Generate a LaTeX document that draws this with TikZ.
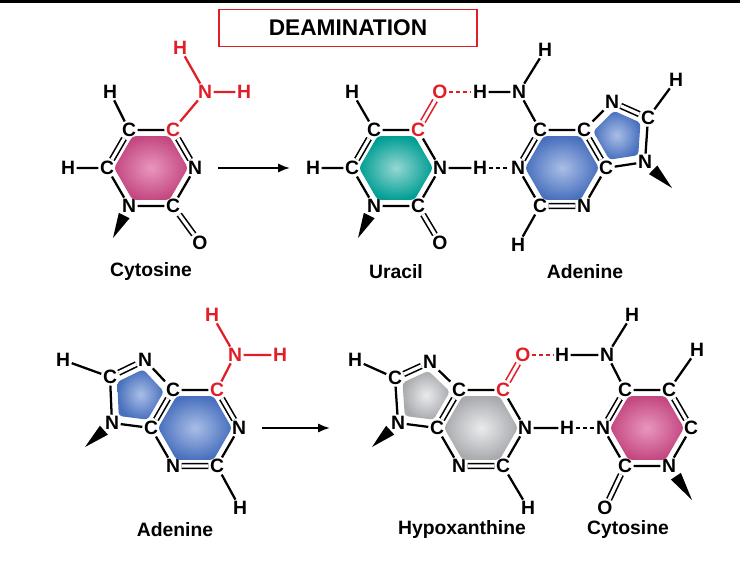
\documentclass[tikz,border=0pt]{standalone}
\usepackage{fontspec}
\setmainfont{Liberation Sans}
\usetikzlibrary{calc,arrows.meta}
\definecolor{rd}{RGB}{225,30,40}
\definecolor{pinkO}{RGB}{196,72,128}\definecolor{pinkI}{RGB}{232,150,190}
\definecolor{tealO}{RGB}{0,158,148}\definecolor{tealI}{RGB}{150,215,210}
\definecolor{blueO}{RGB}{72,112,190}\definecolor{blueI}{RGB}{170,190,230}
\definecolor{grayO}{RGB}{168,170,174}\definecolor{grayI}{RGB}{235,235,237}
\newcommand\rp[3]{($(#1)!#3!(#2)$)}
\newcommand\wdg[2]{\fill ($(#1)!0.3!(#2)!4.5pt!90:(#2)$) -- ($(#1)!0.3!(#2)!4.5pt!-90:(#2)$) -- (#2) -- cycle;}
\def\hr{0.84}\def\pr{0.74}
\begin{document}
\begin{tikzpicture}[x=0.75pt,y=-0.75pt,
 atom/.style={font=\fontsize{14.5}{16}\selectfont\bfseries, inner sep=1.1pt},
 ratom/.style={atom, text=rd},
 bond/.style={line width=1.7pt},
 rbond/.style={bond, draw=rd},
 dbl/.style={line width=1.2pt, double=white, double distance=2.4pt},
 rdbl/.style={dbl, draw=rd},
 hb/.style={line width=1.7pt, dash pattern=on 3pt off 2.2pt},
 lab/.style={font=\fontsize{14.5}{16}\selectfont\bfseries},
 arr/.style={line width=1.5pt, -{Latex[length=9pt,width=7pt]}},
 rs/.style={rounded corners=2.5pt}]
\useasboundingbox (0,0) rectangle (740,563);
\fill (0,0) rectangle (740,3);
\node[draw=rd, line width=0.8pt, minimum width=258*0.75pt, minimum height=37*0.75pt, font=\fontsize{17}{19}\selectfont\bfseries] (title) at (348,28) {DEAMINATION};

% ---------- Cytosine (top left)
\coordinate (c1) at (151,168);
\node[atom] (c1a) at (129,130) {C}; \node[ratom] (c1b) at (173,130) {C};
\node[atom] (c1c) at (195,168) {N}; \node[atom] (c1d) at (173,206) {C};
\node[atom] (c1e) at (129,206) {N}; \node[atom] (c1f) at (107,168) {C};
\shade[rs, inner color=pinkI, outer color=pinkO] \rp{c1}{c1a}{\hr} -- \rp{c1}{c1b}{\hr} -- \rp{c1}{c1c}{\hr} -- \rp{c1}{c1d}{\hr} -- \rp{c1}{c1e}{\hr} -- \rp{c1}{c1f}{\hr} -- cycle;
\node[atom] (c1h1) at (110,92) {H}; \node[atom] (c1h2) at (68,168) {H};
\node[ratom] (c1n) at (205,92) {N}; \node[ratom] (c1ha) at (180,48) {H}; \node[ratom] (c1hb) at (244,92) {H};
\node[atom] (c1o) at (200,243) {O}; \coordinate (c1w) at (113,238);
\draw[bond] (c1a)--(c1b) (c1c)--(c1d) (c1d)--(c1e) (c1e)--(c1f) (c1a)--(c1h1) (c1f)--(c1h2);
\draw[dbl] (c1b)--(c1c) (c1f)--(c1a) (c1d)--(c1o);
\draw[rbond] (c1b)--(c1n) (c1n)--(c1ha) (c1n)--(c1hb);
\wdg{c1e}{c1w}
\node[lab] (l1) at (151,272) {Cytosine};
\coordinate (a1s) at (218,168); \coordinate (a1e) at (290,168);
\draw[arr] (a1s)--(a1e);

% ---------- Uracil
\coordinate (u) at (396,168);
\node[atom] (ua) at (374,130) {C}; \node[ratom] (ub) at (418,130) {C};
\node[atom] (uc) at (440,168) {N}; \node[atom] (ud) at (418,206) {C};
\node[atom] (ue) at (374,206) {N}; \node[atom] (uf) at (352,168) {C};
\shade[rs, inner color=tealI, outer color=tealO] \rp{u}{ua}{\hr} -- \rp{u}{ub}{\hr} -- \rp{u}{uc}{\hr} -- \rp{u}{ud}{\hr} -- \rp{u}{ue}{\hr} -- \rp{u}{uf}{\hr} -- cycle;
\node[atom] (uh1) at (352,92) {H}; \node[atom] (uh2) at (313,168) {H};
\node[ratom] (uo1) at (440,92) {O}; \node[atom] (uo2) at (440,243) {O};
\node[atom] (uh3) at (480,168) {H}; \coordinate (uw) at (358,238);
\draw[bond] (ua)--(ub) (ub)--(uc) (uc)--(ud) (ud)--(ue) (ue)--(uf) (ua)--(uh1) (uf)--(uh2) (uc)--(uh3);
\draw[dbl] (uf)--(ua) (ud)--(uo2);
\draw[rdbl] (ub)--(uo1);
\wdg{ue}{uw}
\node[lab] (l2) at (396,272) {Uracil};

% ---------- Adenine (top right)
\coordinate (ad) at (562,168);
\node[atom] (aa) at (540,130) {C}; \node[atom] (ab) at (584,130) {C};
\node[atom] (ac) at (606,168) {C}; \node[atom] (adn) at (584,206) {N};
\node[atom] (ae) at (540,206) {C}; \node[atom] (af) at (518,168) {N};
\node[atom] (an7) at (612,102) {N}; \node[atom] (ac8) at (648,118) {C}; \node[atom] (an9) at (645,162) {N};
\coordinate (ap) at (619,136);
\shade[rs, inner color=blueI, outer color=blueO] \rp{ad}{aa}{\hr} -- \rp{ad}{ab}{\hr} -- \rp{ad}{ac}{\hr} -- \rp{ad}{adn}{\hr} -- \rp{ad}{ae}{\hr} -- \rp{ad}{af}{\hr} -- cycle;
\shade[rs, inner color=blueI, outer color=blueO] \rp{ap}{ab}{\pr} -- \rp{ap}{an7}{\pr} -- \rp{ap}{ac8}{\pr} -- \rp{ap}{an9}{\pr} -- \rp{ap}{ac}{\pr} -- cycle;
\node[atom] (an6) at (519,92) {N}; \node[atom] (ah6a) at (545,50) {H}; \node[atom] (ah6b) at (480,92) {H};
\node[atom] (ah2) at (518,245) {H}; \node[atom] (ah8) at (676,80) {H}; \coordinate (aw) at (672,188);
\draw[bond] (aa)--(ab) (ac)--(adn) (ae)--(af) (ab)--(an7) (ac8)--(an9) (an9)--(ac) (aa)--(an6) (an6)--(ah6a) (an6)--(ah6b) (ae)--(ah2) (ac8)--(ah8);
\draw[dbl] (ab)--(ac) (adn)--(ae) (af)--(aa) (an7)--(ac8);
\wdg{an9}{aw}
\draw[hb, draw=rd] (uo1)--(ah6b);
\draw[hb] (uh3)--(af);
\node[lab] (l3) at (585,272) {Adenine};

% ---------- Adenine (bottom left)
\coordinate (b) at (195,428);
\node[atom] (ba) at (173,390) {C}; \node[ratom] (bb) at (217,390) {C};
\node[atom] (bc) at (239,428) {N}; \node[atom] (bd) at (217,466) {C};
\node[atom] (be) at (173,466) {N}; \node[atom] (bf) at (151,428) {C};
\node[atom] (bn7) at (145,360) {N}; \node[atom] (bc8) at (110,377) {C}; \node[atom] (bn9) at (112,423) {N};
\coordinate (bp) at (138,396);
\shade[rs, inner color=blueI, outer color=blueO] \rp{b}{ba}{\hr} -- \rp{b}{bb}{\hr} -- \rp{b}{bc}{\hr} -- \rp{b}{bd}{\hr} -- \rp{b}{be}{\hr} -- \rp{b}{bf}{\hr} -- cycle;
\shade[rs, inner color=blueI, outer color=blueO] \rp{bp}{ba}{\pr} -- \rp{bp}{bn7}{\pr} -- \rp{bp}{bc8}{\pr} -- \rp{bp}{bn9}{\pr} -- \rp{bp}{bf}{\pr} -- cycle;
\node[atom] (bh8) at (63,360) {H}; \node[atom] (bh2) at (240,508) {H};
\node[ratom] (bn6) at (235,355) {N}; \node[ratom] (bh6a) at (212,315) {H}; \node[ratom] (bh6b) at (280,355) {H};
\coordinate (bw) at (85,447);
\draw[bond] (ba)--(bb) (bc)--(bd) (be)--(bf) (ba)--(bn7) (bc8)--(bn9) (bn9)--(bf) (bc8)--(bh8) (bd)--(bh2);
\draw[dbl] (bb)--(bc) (bd)--(be) (bf)--(ba) (bn7)--(bc8);
\draw[rbond] (bb)--(bn6) (bn6)--(bh6a) (bn6)--(bh6b);
\wdg{bn9}{bw}
\node[lab] (l4) at (175,530) {Adenine};
\coordinate (a2s) at (262,428); \coordinate (a2e) at (330,428);
\draw[arr] (a2s)--(a2e);

% ---------- Hypoxanthine
\coordinate (h) at (481,428);
\node[atom] (ha) at (459,390) {C}; \node[ratom] (hb) at (503,390) {C};
\node[atom] (hc) at (525,428) {N}; \node[atom] (hd) at (503,466) {C};
\node[atom] (he) at (459,466) {N}; \node[atom] (hf) at (437,428) {C};
\node[atom] (hn7) at (430,362) {N}; \node[atom] (hc8) at (395,378) {C}; \node[atom] (hn9) at (398,423) {N};
\coordinate (hp) at (424,396);
\shade[rs, inner color=grayI, outer color=grayO] \rp{h}{ha}{\hr} -- \rp{h}{hb}{\hr} -- \rp{h}{hc}{\hr} -- \rp{h}{hd}{\hr} -- \rp{h}{he}{\hr} -- \rp{h}{hf}{\hr} -- cycle;
\shade[rs, inner color=grayI, outer color=grayO] \rp{hp}{ha}{\pr} -- \rp{hp}{hn7}{\pr} -- \rp{hp}{hc8}{\pr} -- \rp{hp}{hn9}{\pr} -- \rp{hp}{hf}{\pr} -- cycle;
\node[atom] (hh8) at (355,360) {H}; \node[atom] (hh2) at (528,508) {H};
\node[ratom] (ho) at (523,355) {O}; \node[atom] (hh1) at (567,428) {H};
\coordinate (hw) at (372,447);
\draw[bond] (ha)--(hb) (hb)--(hc) (hc)--(hd) (he)--(hf) (ha)--(hn7) (hc8)--(hn9) (hn9)--(hf) (hc8)--(hh8) (hd)--(hh2) (hc)--(hh1);
\draw[dbl] (hd)--(he) (hf)--(ha) (hn7)--(hc8);
\draw[rdbl] (hb)--(ho);
\wdg{hn9}{hw}
\node[lab] (l5) at (462,530) {Hypoxanthine};

% ---------- Cytosine (bottom right)
\coordinate (cc) at (647,428);
\node[atom] (ca) at (625,390) {C}; \node[atom] (cb) at (669,390) {C};
\node[atom] (ccc) at (691,428) {C}; \node[atom] (cd) at (669,466) {N};
\node[atom] (ce) at (625,466) {C}; \node[atom] (cf) at (603,428) {N};
\shade[rs, inner color=pinkI, outer color=pinkO] \rp{cc}{ca}{\hr} -- \rp{cc}{cb}{\hr} -- \rp{cc}{ccc}{\hr} -- \rp{cc}{cd}{\hr} -- \rp{cc}{ce}{\hr} -- \rp{cc}{cf}{\hr} -- cycle;
\node[atom] (cn4) at (607,355) {N}; \node[atom] (ch4a) at (632,315) {H}; \node[atom] (ch4b) at (562,355) {H};
\node[atom] (ch5) at (697,350) {H}; \node[atom] (co) at (605,508) {O};
\coordinate (cw) at (692,500);
\draw[bond] (ca)--(cb) (ccc)--(cd) (cd)--(ce) (ce)--(cf) (ca)--(cn4) (cn4)--(ch4a) (cn4)--(ch4b) (cb)--(ch5);
\draw[dbl] (cb)--(ccc) (cf)--(ca) (ce)--(co);
\wdg{cd}{cw}
\draw[hb, draw=rd] (ho)--(ch4b);
\draw[hb] (hh1)--(cf);
\node[lab] (l6) at (628,530) {Cytosine};
\end{tikzpicture}
\end{document}
